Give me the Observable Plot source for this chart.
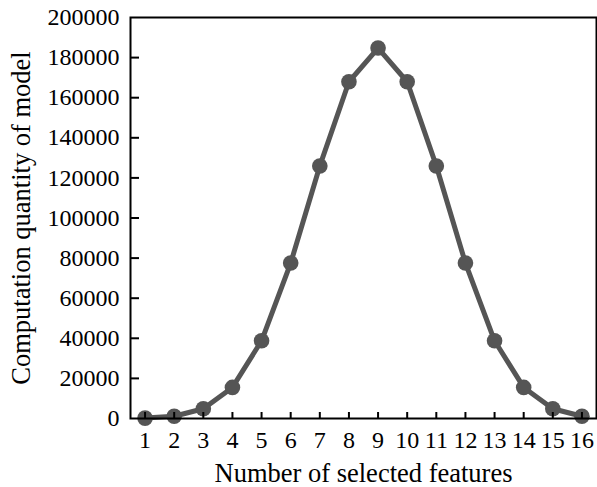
<!DOCTYPE html>
<html>
<head>
<meta charset="utf-8">
<script src="https://cdn.jsdelivr.net/npm/d3@7"></script>
<script src="https://cdn.jsdelivr.net/npm/@observablehq/plot@0.6"></script>
<style>
  html, body { margin: 0; padding: 0; background: #fff; }
</style>
</head>
<body>
<div id="chart"></div>
<script>
const features = [1, 2, 3, 4, 5, 6, 7, 8, 9, 10, 11, 12, 13, 14, 15, 16];
const quantity = [190, 1140, 4845, 15504, 38760, 77520, 125970, 167960, 184756, 167960, 125970, 77520, 38760, 15504, 4845, 1140];
const yTicks = [0, 20000, 40000, 60000, 80000, 100000, 120000, 140000, 160000, 180000, 200000];
const xTicks = [1, 2, 3, 4, 5, 6, 7, 8, 9, 10, 11, 12, 13, 14, 15, 16];
const xLabel = "Number of selected features";
const yLabel = "Computation quantity of model";

const data = features.map((f, i) => ({f, q: quantity[i]}));

const W = 597, H = 487;
const mL = 130, mR = 1, mT = 17, mB = 69;
const innerW = W - mL - mR, innerH = H - mT - mB;
const col = "#555555";

const chart = Plot.plot({
  width: W,
  height: H,
  marginLeft: mL,
  marginRight: mR,
  marginTop: mT,
  marginBottom: mB,
  style: {fontFamily: "'Liberation Serif', 'Times New Roman', serif", fontSize: "24px", background: "#fff", color: "#000"},
  x: {domain: [0.5, 16.5]},
  y: {domain: [0, 200000]},
  marks: [
    Plot.line(data, {x: "f", y: "q", stroke: col, strokeWidth: 5}),
    Plot.dot(data, {x: "f", y: "q", r: 7.8, fill: col, stroke: null}),
    Plot.tickY(yTicks.filter(d => d > 0 && d < 200000), {y: d => d, stroke: "#000", strokeWidth: 2, insetRight: innerW - 9}),
    Plot.tickX(xTicks, {x: d => d, stroke: "#000", strokeWidth: 2, insetTop: innerH - 6}),
    Plot.frame({stroke: "#000", strokeWidth: 2}),
    Plot.axisY({ticks: yTicks, tickSize: 0, tickPadding: 11, tickFormat: d => String(d), label: null, fontSize: 24}),
    Plot.axisX({ticks: xTicks, tickSize: 0, tickPadding: 12, tickFormat: d => String(d), label: null, fontSize: 24}),
    Plot.text([xLabel], {text: d => d, frameAnchor: "bottom", textAnchor: "middle", lineAnchor: "middle", dy: 55, fontSize: 26.5, fill: "#000"}),
    Plot.text([yLabel], {text: d => d, frameAnchor: "left", textAnchor: "middle", lineAnchor: "middle", dx: -109, rotate: -90, fontSize: 26.5, fill: "#000"})
  ]
});
document.getElementById("chart").appendChild(chart);
</script>
</body>
</html>
